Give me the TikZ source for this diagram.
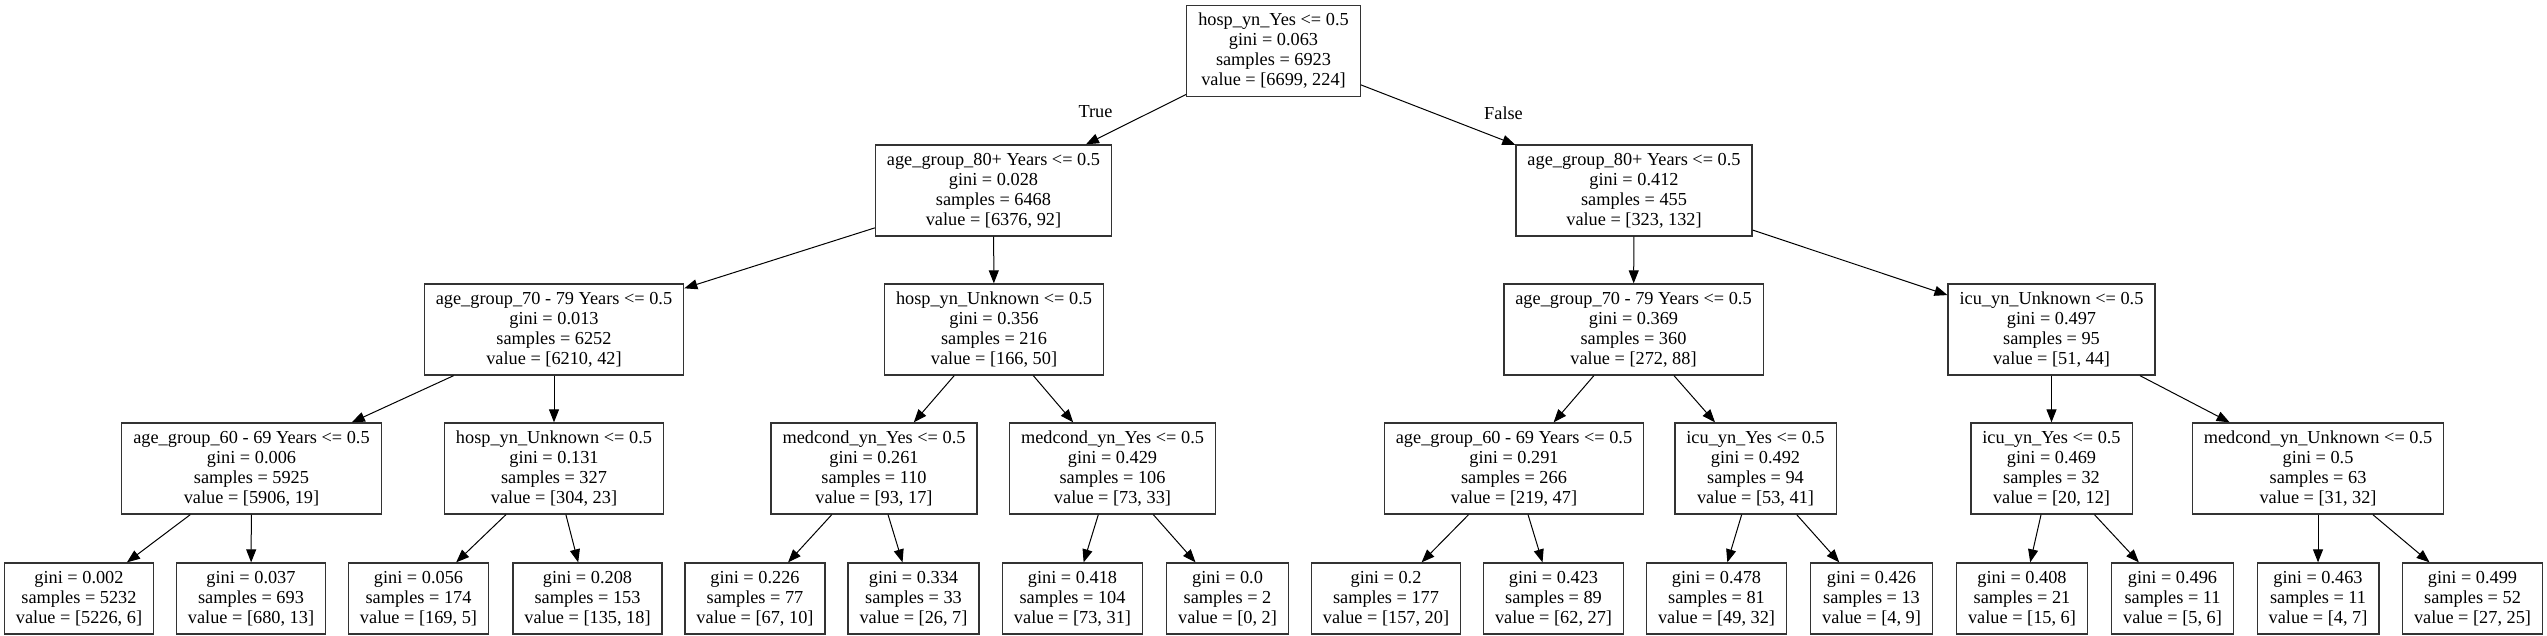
\documentclass[tikz,border=0pt]{standalone}
\usepackage{fontspec}
\setmainfont{Liberation Serif}
\usetikzlibrary{arrows.meta}
\newcommand{\treefont}{\fontsize{18.3}{20}\selectfont}
\tikzset{splitnode/.style={draw=black!80, line width=1.3pt, rectangle, align=center,
      font=\treefont, inner xsep=11.5pt, inner ysep=0pt, minimum height=91pt},
    leafnode/.style={splitnode, minimum height=71pt},
    branch/.style={line width=1pt, -{Triangle[length=13pt, width=10pt]}},
    edgelabel/.style={font=\treefont, inner sep=0pt}}

\begin{document}
\begin{tikzpicture}[x=1pt, y=-1pt]
\useasboundingbox (0,0) rectangle (2547,636);
% root
\node[splitnode] (n0) at (1273.5,51) {hosp\_yn\_Yes <= 0.5\\gini = 0.063\\samples = 6923\\value = [6699, 224]};
% left subtree
\node[splitnode] (n1) at (993.5,190.5) {age\_group\_80+ Years <= 0.5\\gini = 0.028\\samples = 6468\\value = [6376, 92]};
\node[splitnode] (n2) at (554,329.5) {age\_group\_70 - 79 Years <= 0.5\\gini = 0.013\\samples = 6252\\value = [6210, 42]};
\node[splitnode] (n3) at (251.5,468.5) {age\_group\_60 - 69 Years <= 0.5\\gini = 0.006\\samples = 5925\\value = [5906, 19]};
\node[leafnode] (n4) at (79,598.5) {gini = 0.002\\samples = 5232\\value = [5226, 6]};
\node[leafnode] (n5) at (251,598.5) {gini = 0.037\\samples = 693\\value = [680, 13]};
\node[splitnode] (n6) at (554,468.5) {hosp\_yn\_Unknown <= 0.5\\gini = 0.131\\samples = 327\\value = [304, 23]};
\node[leafnode] (n7) at (418.5,598.5) {gini = 0.056\\samples = 174\\value = [169, 5]};
\node[leafnode] (n8) at (587.5,598.5) {gini = 0.208\\samples = 153\\value = [135, 18]};
\node[splitnode] (n9) at (994,329.5) {hosp\_yn\_Unknown <= 0.5\\gini = 0.356\\samples = 216\\value = [166, 50]};
\node[splitnode] (n10) at (874,468.5) {medcond\_yn\_Yes <= 0.5\\gini = 0.261\\samples = 110\\value = [93, 17]};
\node[leafnode] (n11) at (755,598.5) {gini = 0.226\\samples = 77\\value = [67, 10]};
\node[leafnode] (n12) at (913.5,598.5) {gini = 0.334\\samples = 33\\value = [26, 7]};
\node[splitnode] (n13) at (1112.5,468.5) {medcond\_yn\_Yes <= 0.5\\gini = 0.429\\samples = 106\\value = [73, 33]};
\node[leafnode] (n14) at (1072.5,598.5) {gini = 0.418\\samples = 104\\value = [73, 31]};
\node[leafnode] (n15) at (1227.5,598.5) {gini = 0.0\\samples = 2\\value = [0, 2]};
% right subtree
\node[splitnode] (n16) at (1634,190.5) {age\_group\_80+ Years <= 0.5\\gini = 0.412\\samples = 455\\value = [323, 132]};
\node[splitnode] (n17) at (1633.5,329.5) {age\_group\_70 - 79 Years <= 0.5\\gini = 0.369\\samples = 360\\value = [272, 88]};
\node[splitnode] (n18) at (1514,468.5) {age\_group\_60 - 69 Years <= 0.5\\gini = 0.291\\samples = 266\\value = [219, 47]};
\node[leafnode] (n19) at (1386,598.5) {gini = 0.2\\samples = 177\\value = [157, 20]};
\node[leafnode] (n20) at (1553.5,598.5) {gini = 0.423\\samples = 89\\value = [62, 27]};
\node[splitnode] (n21) at (1755.5,468.5) {icu\_yn\_Yes <= 0.5\\gini = 0.492\\samples = 94\\value = [53, 41]};
\node[leafnode] (n22) at (1716.5,598.5) {gini = 0.478\\samples = 81\\value = [49, 32]};
\node[leafnode] (n23) at (1871.5,598.5) {gini = 0.426\\samples = 13\\value = [4, 9]};
\node[splitnode] (n24) at (2051.5,329.5) {icu\_yn\_Unknown <= 0.5\\gini = 0.497\\samples = 95\\value = [51, 44]};
\node[splitnode] (n25) at (2051.5,468.5) {icu\_yn\_Yes <= 0.5\\gini = 0.469\\samples = 32\\value = [20, 12]};
\node[leafnode] (n26) at (2022,598.5) {gini = 0.408\\samples = 21\\value = [15, 6]};
\node[leafnode] (n27) at (2172.5,598.5) {gini = 0.496\\samples = 11\\value = [5, 6]};
\node[splitnode] (n28) at (2318,468.5) {medcond\_yn\_Unknown <= 0.5\\gini = 0.5\\samples = 63\\value = [31, 32]};
\node[leafnode] (n29) at (2318,598.5) {gini = 0.463\\samples = 11\\value = [4, 7]};
\node[leafnode] (n30) at (2472.5,598.5) {gini = 0.499\\samples = 52\\value = [27, 25]};
% edges
\foreach \a/\b in {n0/n1, n0/n16, n1/n2, n1/n9, n2/n3, n2/n6, n3/n4, n3/n5, n6/n7, n6/n8,
    n9/n10, n9/n13, n10/n11, n10/n12, n13/n14, n13/n15, n16/n17, n16/n24, n17/n18, n17/n21,
    n18/n19, n18/n20, n21/n22, n21/n23, n24/n25, n24/n28, n25/n26, n25/n27, n28/n29, n28/n30}
  \draw[branch] (\a) -- (\b);
\node[edgelabel] (lbltrue) at (1095.5,112) {True};
\node[edgelabel] (lblfalse) at (1503.5,113) {False};
\end{tikzpicture}
\end{document}
